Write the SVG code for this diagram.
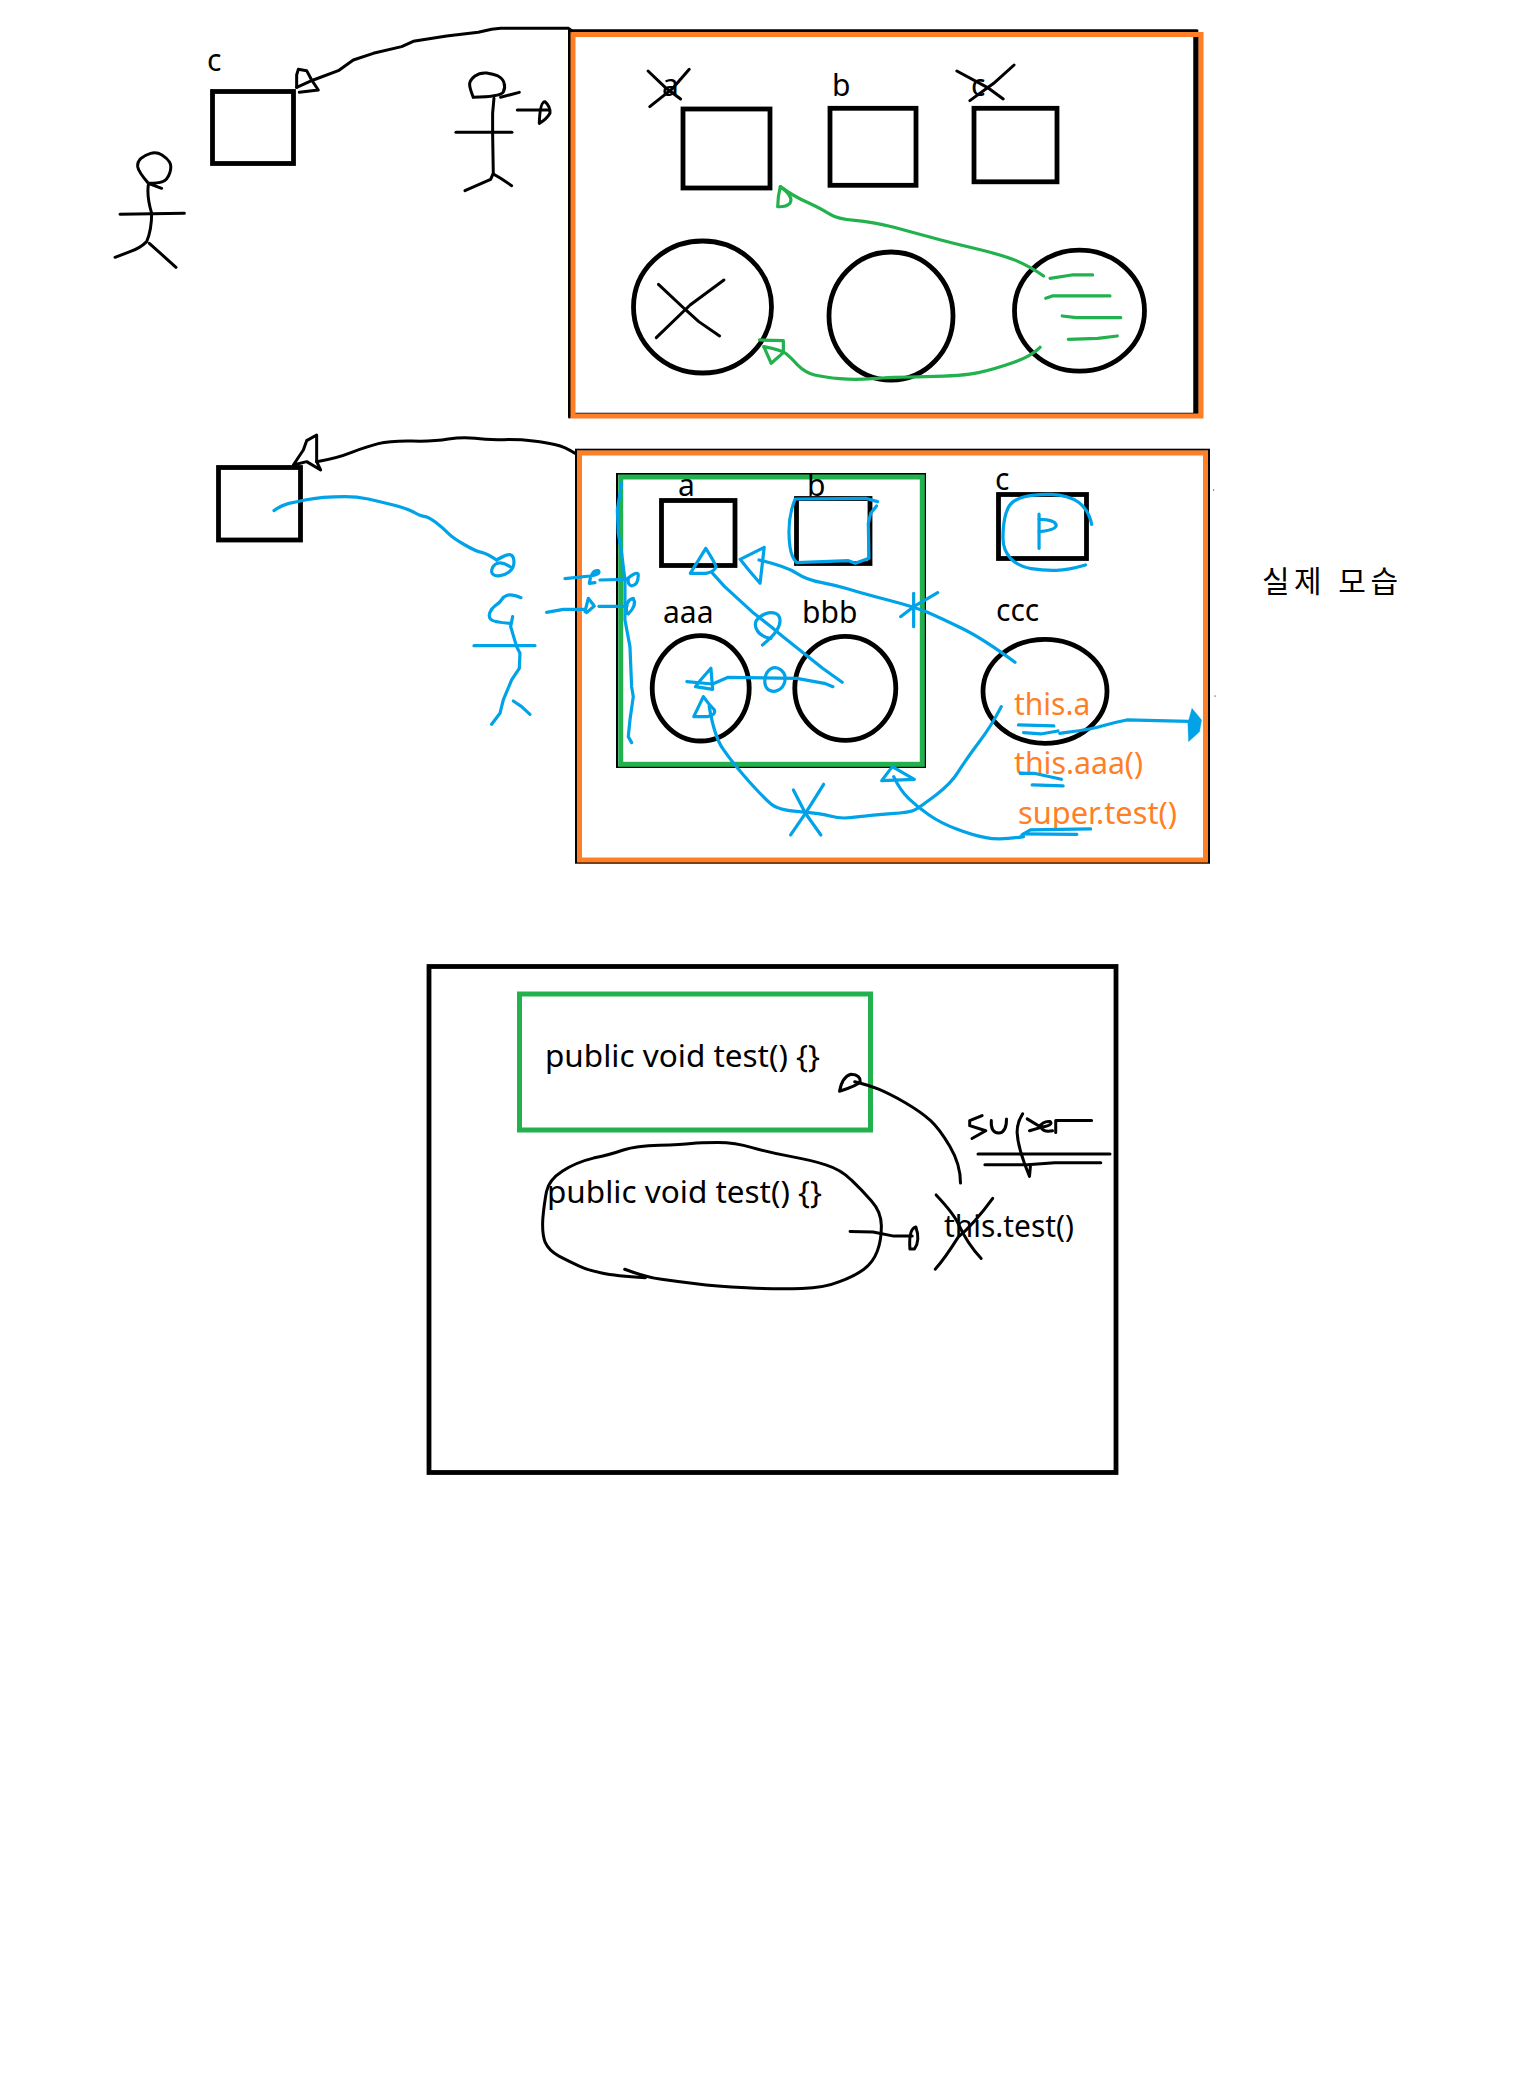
<svg xmlns="http://www.w3.org/2000/svg" width="1536" height="2092" viewBox="0 0 1536 2092">
<style>
text{font-family:"Noto Sans","Noto Sans CJK KR",sans-serif;font-size:30px;fill:#000}
text.o{fill:#ff7f27}
polyline,path{fill:none;stroke-linecap:round;stroke-linejoin:round;vector-effect:non-scaling-stroke}
.k polyline,.k path{stroke:#000;stroke-width:3}
.g polyline,.g path{stroke:#22b14c;stroke-width:3.2}
.c polyline,.c path{stroke:#00a2e8;stroke-width:3.2}
rect,ellipse{fill:none;stroke:#000;stroke-width:4.8}
rect.or{stroke:#ff7f27;stroke-width:5}
rect.gr{stroke:#22b14c;stroke-width:5}
rect.th{stroke-width:2}
rect.bg{fill:#fff;stroke:none}
rect.dot{fill:#555;stroke:none}
</style>
<rect class="bg" width="1536" height="2092"/>

<g id="frame-top">
<path d="M569.5 30.5V417M569.5 30.8H1197" stroke="#000" stroke-width="3"/>
<path d="M1196 36V414" stroke="#000" stroke-width="5.5"/>
<path d="M573 413.5H1196" stroke="#000" stroke-width="1.5"/>
<rect class="or" x="573" y="34.5" width="628" height="381.5"/>
</g>
<g id="top-c"><rect x="212.5" y="91.5" width="81" height="72"/><text x="207" y="71">c</text></g>
<g id="top-a"><rect x="683" y="109" width="87" height="79"/><text x="662" y="96">a</text></g>
<g id="top-b"><rect x="830" y="108.3" width="86" height="77"/><text x="832" y="96">b</text></g>
<g id="top-cc"><rect x="974" y="108.3" width="83" height="73.5"/><text x="971" y="96">c</text></g>
<g id="top-o1"><ellipse cx="702.5" cy="307" rx="69" ry="66"/></g>
<g id="top-o2"><ellipse cx="891" cy="316" rx="62" ry="64"/></g>
<g id="top-o3"><ellipse cx="1079.5" cy="310.7" rx="65" ry="60.5"/></g>

<g id="frame-mid">
<rect class="th" x="576" y="449.7" width="633" height="413"/>
<rect class="or" x="579.5" y="453" width="626" height="407"/>
</g>
<g id="frame-green">
<rect class="th" x="617" y="474" width="308" height="293"/>
<rect class="gr" x="620.7" y="477" width="301.6" height="287.3"/>
</g>
<g id="mid-c"><rect x="218.5" y="467.5" width="82" height="72.5"/></g>
<g id="mid-a"><rect x="661.5" y="500.5" width="73.5" height="65"/><text x="678" y="496">a</text></g>
<g id="mid-b"><rect x="796.5" y="498.5" width="73.5" height="65"/><text x="807" y="496">b</text></g>
<g id="mid-cc"><rect x="998.5" y="494.5" width="88" height="64"/><text x="995" y="490">c</text></g>
<g id="mid-aaa"><ellipse cx="700.7" cy="688.3" rx="48.5" ry="52.7"/><text x="663" y="623">aaa</text></g>
<g id="mid-bbb"><ellipse cx="845.3" cy="688.3" rx="50.5" ry="52"/><text x="802" y="622.5">bbb</text></g>
<g id="mid-ccc"><ellipse cx="1045" cy="691.3" rx="62" ry="52"/><text x="996" y="621">ccc</text></g>
<g id="mid-labels">
<text class="o" x="1014" y="715">this.a</text>
<text class="o" x="1014" y="774" textLength="129" lengthAdjust="spacingAndGlyphs">this.aaa()</text>
<text class="o" x="1018" y="824" textLength="159" lengthAdjust="spacingAndGlyphs">super.test()</text>
</g>
<g id="caption"><text x="1262" y="592" textLength="136">실제 모습</text></g>
<g id="dots"><rect class="dot" x="1213" y="489.5" width="1.2" height="1.2"/><rect class="dot" x="1214.5" y="695.5" width="1.2" height="1.2"/></g>

<g id="frame-bottom"><rect x="429" y="966.5" width="687" height="506"/></g>
<g id="bottom-parent"><rect class="gr" x="519.5" y="994" width="351" height="136"/><text x="545" y="1067" textLength="275" lengthAdjust="spacingAndGlyphs">public void test() {}</text></g>
<g id="bottom-child"><text x="547" y="1203" textLength="275" lengthAdjust="spacingAndGlyphs">public void test() {}</text></g>
<g id="bottom-this"><text x="944" y="1237" textLength="130" lengthAdjust="spacingAndGlyphs">this.test()</text></g>

<g id="connectors">
<g class="k" transform="translate(80 0) scale(.3333)">
<polyline points="650,262 700,240 775,212 820,180 880,160 965,140 1000,124 1100,108 1195,97 1235,88 1262,85 1465,85 1475,92"/>
<polyline points="650,262 650,225 655,208 680,212 695,240 715,270 658,277"/>
<path d="M1180 292Q1168 262 1169 251Q1170 240 1185 228Q1200 217 1220 219Q1240 222 1254 228Q1268 235 1272 248Q1277 262 1270 276Q1262 290 1180 292"/>
<polyline points="1262,292 1318,277"/>
<polyline points="1242,295 1238,340 1238,400 1240,520 1232,538 1155,572"/>
<polyline points="1240,522 1262,535 1295,557"/>
<polyline points="1128,397 1296,397"/>
<polyline points="1312,330 1405,330"/>
<path d="M1378 370Q1380 305 1395 305Q1412 320 1410 340Q1400 358 1378 370"/>
<path d="M205 550Q175 515 173 500Q172 485 183 475Q195 465 212 460Q230 455 246 465Q262 475 269 487Q276 500 269 520Q262 540 248 545Q235 550 205 550L245 565"/>
<path d="M205 555Q200 590 215 640Q215 690 200 725Q180 745 150 755L105 772"/>
<polyline points="208,730 288,802"/>
<polyline points="120,643 313,640"/>
</g>
<g transform="translate(560 0) scale(.4337 .3333)">
<g class="k">
<polyline points="203,213 245,265 278,297"/>
<polyline points="298,208 260,265 207,320"/>
<polyline points="915,213 985,262 1022,297"/>
<polyline points="1047,195 1000,250 945,302"/>
<polyline points="227,853 290,930 320,965 368,1008"/>
<polyline points="378,840 300,915 222,1013"/>
</g>
<g class="g">
<path d="M1115 828Q1085 800 1052 782Q1020 765 955 745Q890 725 855 712Q820 700 770 682Q720 665 680 661Q640 658 620 641Q600 625 570 607Q540 590 508 560"/>
<path d="M508 560Q502 590 502 620Q520 622 530 610Q540 590 508 560"/>
<polyline points="1130,835 1180,825 1228,825"/>
<polyline points="1120,895 1135,888 1268,888"/>
<polyline points="1158,948 1190,953 1293,953"/>
<polyline points="1172,1018 1240,1015 1285,1008"/>
<path d="M1107 1042Q1085 1070 1042 1089Q1000 1108 965 1118Q930 1128 845 1130Q760 1132 720 1136Q680 1140 645 1136Q610 1132 587 1125Q565 1118 547 1094Q530 1070 520 1060Q510 1050 470 1040"/>
<polyline points="470,1040 487,1090 515,1058 515,1022 460,1020"/>
</g>
</g>
<g transform="translate(200 420) scale(.3333)">
<g class="k">
<path d="M350 125Q410 115 455 97Q500 80 535 71Q570 62 635 63Q700 65 745 57Q790 50 825 55Q860 60 910 59Q960 58 1000 63Q1040 68 1067 74Q1095 80 1125 100"/>
<polyline points="350,125 350,45 320,62 310,90 280,135 320,125 362,150 350,125"/>
</g>
<g class="c">
<path d="M222 272Q245 255 267 250Q290 245 315 240Q340 235 370 232Q400 230 435 230Q470 230 505 237Q540 245 580 255Q620 265 640 276Q660 288 672 289Q685 290 707 307Q730 325 745 340Q760 355 795 375Q830 395 845 397Q860 400 890 420"/>
<path d="M890 420Q925 400 933 405Q942 410 942 427Q942 445 928 455Q915 465 900 467Q885 470 878 462Q872 455 878 442Q885 430 897 429Q910 428 930 440"/>
<path d="M963 533Q935 522 922 526Q910 530 905 539Q900 548 887 556Q875 565 870 577Q865 590 872 598Q880 607 930 610"/>
<polyline points="938,590 932,620 950,680 960,700 958,745 935,780 910,840 900,880 875,913"/>
<polyline points="822,677 1005,677"/>
<polyline points="940,843 965,860 990,883"/>
<path d="M1095 476L1170 468Q1205 462 1195 452Q1175 448 1168 490L1185 488"/>
<polyline points="1200,480 1280,478"/>
<path d="M1280 478Q1315 450 1315 465Q1315 495 1295 498Q1282 495 1285 475"/>
<polyline points="1040,577 1090,568 1155,568"/>
<polyline points="1155,575 1165,535 1183,558 1160,578 1155,568"/>
<polyline points="1197,559 1280,559"/>
<path d="M1280 580Q1275 540 1300 535Q1312 555 1285 582"/>
<polyline points="1265,190 1252,270 1255,340 1265,400 1275,480 1275,600 1290,680 1295,800 1300,830 1290,900 1285,950 1295,968"/>
</g>
</g>
<g class="c" transform="translate(680 430) scale(.3436 .3333)">
<polyline points="472,757 415,715 300,620 265,590 215,550 130,470 95,430"/>
<path d="M75 355Q100 395 105 410Q100 425 75 430L30 430L75 355"/>
<path d="M240 645Q270 620 281 602Q292 585 291 570Q290 555 277 550Q265 545 247 552Q230 560 222 572Q215 585 225 602Q235 620 265 625"/>
<path d="M975 697Q880 625 820 595Q760 565 720 547Q680 530 605 510Q530 490 490 477Q450 465 410 457Q370 450 340 430Q310 410 230 390"/>
<polyline points="245,352 175,388 200,420 233,460 245,352"/>
<polyline points="680,490 680,590"/>
<polyline points="750,488 680,530 642,560"/>
<polyline points="445,770 420,760 340,745 140,742 95,762 20,755"/>
<polyline points="90,715 60,750 45,770 95,778 90,715"/>
<path d="M265 716Q250 725 247 747Q245 770 257 779Q270 788 285 781Q300 775 305 755Q310 735 295 721Q280 708 265 716"/>
<path d="M935 830Q905 890 870 937Q835 985 812 1022Q790 1060 745 1095Q700 1130 685 1139Q670 1148 615 1151Q560 1155 515 1161Q470 1168 440 1159Q410 1150 347 1145Q285 1140 265 1122Q245 1105 197 1050Q150 995 125 957Q100 920 85 830"/>
<path d="M68 800L40 860L80 860Q105 855 100 840Q85 825 68 800"/>
<polyline points="330,1080 365,1150 410,1215"/>
<polyline points="418,1063 365,1150 322,1215"/>
<path d="M1000 1220Q930 1232 890 1223Q850 1215 805 1197Q760 1180 725 1155Q690 1130 665 1105Q640 1080 622 1040"/>
<polyline points="618,1010 587,1052 682,1048 618,1010"/>
<polyline points="985,885 1088,888"/>
<polyline points="1000,908 1050,912 1100,903"/>
<path d="M1105 910Q1190 900 1225 889Q1260 878 1300 870L1510 875"/>
<polygon points="1490,835 1518,870 1512,905 1480,935 1478,880" fill="#00a2e8" stroke="#00a2e8" stroke-width="1"/>
<polyline points="990,1030 1030,1030 1110,1048"/>
<polyline points="1025,1065 1115,1068"/>
<polyline points="995,1215 1020,1200 1195,1197"/>
<polyline points="1000,1212 1155,1213"/>
<path d="M1198 283Q1190 240 1160 217Q1130 195 1080 193Q1030 192 1000 201Q970 210 960 225Q950 240 945 265Q940 290 940 325Q940 360 962 385Q985 410 1022 416Q1060 422 1095 421Q1130 420 1180 405"/>
<polyline points="1045,355 1045,252"/>
<path d="M1045 268Q1090 268 1095 285Q1095 300 1045 305"/>
<path d="M575 215L540 205L335 207Q310 270 320 350Q325 385 340 398L490 392L510 400L550 385L548 280L555 250L572 228"/>
</g>
<g class="k" transform="translate(420 950) scale(.46 .3378)">
<path d="M490 970Q425 965 395 956Q365 948 345 935Q325 922 302 906Q280 890 272 865Q265 840 267 795Q270 750 275 715Q280 680 310 654Q340 628 377 616Q415 605 442 592Q470 580 520 578Q570 577 590 573Q610 570 647 570Q685 570 722 585Q760 600 805 611Q850 622 882 636Q915 650 937 680Q960 710 981 742Q1003 775 1003 817Q1003 860 994 892Q985 925 965 945Q945 965 912 982Q880 1000 830 1002Q780 1005 710 1000Q640 995 600 988Q560 982 525 975Q490 968 445 945"/>
<path d="M1175 690Q1175 635 1152 582Q1130 530 1110 505Q1090 480 1055 452Q1020 425 997 412Q975 400 945 390"/>
<path d="M912 418Q918 375 937 368Q958 370 957 390Q950 402 912 418"/>
<polyline points="935,833 985,835 1030,847 1070,847"/>
<path d="M1065 885Q1062 825 1078 820Q1088 860 1075 885L1065 885"/>
<path d="M1122 725Q1160 780 1170 810Q1190 870 1220 913"/>
<path d="M1245 735Q1205 810 1170 850Q1140 915 1120 945"/>
<polyline points="1222,490 1195,505 1195,520 1230,535 1200,558"/>
<path d="M1242 505Q1240 540 1258 542Q1275 540 1275 500"/>
<path d="M1310 485Q1298 510 1298 540Q1300 590 1325 670L1327 640"/>
<polyline points="1320,500 1350,525 1325,535"/>
<path d="M1345 525Q1355 505 1370 508Q1378 518 1350 525Q1355 540 1375 535"/>
<polyline points="1382,540 1382,505 1460,505"/>
<polyline points="1213,604 1500,604"/>
<polyline points="1228,636 1320,636 1380,630 1480,630"/>
</g>
</g>
</svg>
